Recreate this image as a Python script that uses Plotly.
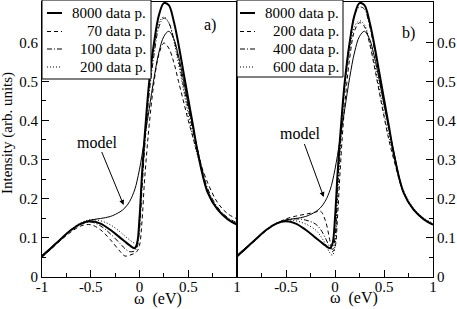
import plotly.graph_objects as go

# shared energy grid (eV)
omega = [-1, -0.9, -0.8, -0.7, -0.6, -0.5, -0.4, -0.3, -0.2, -0.15, -0.1, -0.05, -0.025,
         0, 0.025, 0.05, 0.075, 0.1, 0.15, 0.2, 0.25, 0.3, 0.35, 0.4, 0.45, 0.5, 0.55,
         0.6, 0.7, 0.8, 0.9, 1.0]

model = [0.055, 0.077, 0.099, 0.12, 0.136, 0.145, 0.149, 0.154, 0.166, 0.176, 0.193, 0.222, 0.245,
         0.275, 0.31, 0.35, 0.39, 0.43, 0.51, 0.575, 0.615, 0.628, 0.61, 0.565, 0.505, 0.44, 0.38,
         0.32, 0.215, 0.172, 0.148, 0.133]

p8000 = [0.052, 0.075, 0.098, 0.12, 0.136, 0.142, 0.136, 0.12, 0.1, 0.09, 0.08, 0.073, 0.085,
         0.15, 0.26, 0.35, 0.43, 0.5, 0.6, 0.67, 0.70, 0.695, 0.655, 0.595, 0.525, 0.455, 0.385,
         0.315, 0.215, 0.172, 0.148, 0.133]

# panel a)
a_p70 = [0.05, 0.072, 0.095, 0.115, 0.13, 0.133, 0.12, 0.095, 0.065, 0.053, 0.055, 0.06, 0.065,
         0.08, 0.14, 0.24, 0.32, 0.39, 0.5, 0.57, 0.598, 0.585, 0.55, 0.5, 0.45, 0.4, 0.355,
         0.31, 0.24, 0.19, 0.162, 0.148]
a_p100 = [0.051, 0.074, 0.097, 0.118, 0.134, 0.14, 0.13, 0.11, 0.085, 0.072, 0.064, 0.066, 0.075,
          0.12, 0.22, 0.32, 0.40, 0.47, 0.57, 0.64, 0.662, 0.65, 0.61, 0.555, 0.49, 0.43, 0.37,
          0.32, 0.225, 0.178, 0.152, 0.138]
a_p200 = [0.053, 0.076, 0.099, 0.121, 0.138, 0.146, 0.143, 0.133, 0.115, 0.104, 0.094, 0.086, 0.09,
          0.14, 0.25, 0.34, 0.42, 0.49, 0.59, 0.65, 0.665, 0.65, 0.605, 0.545, 0.48, 0.415, 0.355,
          0.305, 0.22, 0.175, 0.15, 0.135]

# panel b)
b_p200 = [0.05, 0.073, 0.096, 0.118, 0.135, 0.148, 0.155, 0.16, 0.165, 0.168, 0.145, 0.09, 0.064,
          0.075, 0.15, 0.26, 0.36, 0.44, 0.56, 0.63, 0.65, 0.64, 0.6, 0.54, 0.475, 0.41, 0.35,
          0.3, 0.215, 0.172, 0.148, 0.134]
b_p400 = [0.051, 0.074, 0.097, 0.119, 0.136, 0.145, 0.148, 0.145, 0.135, 0.122, 0.1, 0.075, 0.07,
          0.1, 0.22, 0.33, 0.42, 0.5, 0.6, 0.67, 0.69, 0.685, 0.645, 0.585, 0.515, 0.445, 0.38,
          0.315, 0.215, 0.172, 0.148, 0.133]
b_p600 = [0.052, 0.075, 0.098, 0.12, 0.137, 0.145, 0.143, 0.135, 0.12, 0.105, 0.085, 0.06, 0.055,
          0.08, 0.2, 0.31, 0.4, 0.48, 0.58, 0.64, 0.655, 0.645, 0.605, 0.55, 0.485, 0.42, 0.36,
          0.31, 0.22, 0.176, 0.151, 0.137]

a_labels = ["8000 data p.", "70 data p.", "100 data p.", "200 data p."]
b_labels = ["8000 data p.", "200 data p.", "400 data p.", "600 data p."]
dashes = ["solid", "4px,3px", "5px,2px,1px,2px", "1px,2px"]
widths = [2, 1, 1, 1]

x_ticks = [-1, -0.5, 0, 0.5, 1]
a_xticktext = ["-1", "-0.5", "0", "0.5", "1"]
b_xticktext = ["", "-0.5", "0", "0.5", "1"]
y_ticks = [0, 0.1, 0.2, 0.3, 0.4, 0.5, 0.6]
y_ticktext = ["0", "0.1", "0.2", "0.3", "0.4", "0.5", "0.6"]

FONT = "Liberation Serif, Times New Roman, serif"
W, H = 457, 309

fig = go.Figure()

a_series = [p8000, a_p70, a_p100, a_p200]
b_series = [p8000, b_p200, b_p400, b_p600]

for ys, lab, d, w in zip(a_series, a_labels, dashes, widths):
    fig.add_trace(go.Scatter(x=omega, y=ys, name=lab, mode="lines", line_shape="spline",
                             line=dict(color="black", dash=d, width=w), showlegend=False,
                             xaxis="x", yaxis="y"))
fig.add_trace(go.Scatter(x=omega, y=model, name="model", mode="lines", line_shape="spline",
                         line=dict(color="black", width=1), showlegend=False,
                         xaxis="x", yaxis="y"))

for ys, lab, d, w in zip(b_series, b_labels, dashes, widths):
    fig.add_trace(go.Scatter(x=omega, y=ys, name=lab, mode="lines", line_shape="spline",
                             line=dict(color="black", dash=d, width=w), showlegend=False,
                             xaxis="x2", yaxis="y2"))
fig.add_trace(go.Scatter(x=omega, y=model, name="model", mode="lines", line_shape="spline",
                         line=dict(color="black", width=1), showlegend=False,
                         xaxis="x2", yaxis="y2"))

xl, xm, xr = 42 / W, 237 / W, 433 / W
yb, yt = (H - 276.7) / H, (H - 2) / H

common_x = dict(range=[-1, 1], tickvals=x_ticks, ticks="inside", ticklen=7, tickcolor="black",
                showline=True, linecolor="black", linewidth=1, mirror=True,
                showgrid=False, zeroline=False, automargin=False, ticklabelstandoff=-4,
                minor=dict(dtick=0.25, ticks="inside", ticklen=4, tickcolor="black", showgrid=False),
                tickfont=dict(family=FONT, size=15, color="black"))
common_y = dict(range=[0, 0.703], tickvals=y_ticks, ticktext=y_ticktext, ticks="inside", ticklen=7,
                tickcolor="black", showline=True, linecolor="black", linewidth=1, mirror=True,
                showgrid=False, zeroline=False, automargin=False,
                minor=dict(tickvals=[0.05, 0.15, 0.25, 0.35, 0.45, 0.55, 0.65], ticks="inside",
                           ticklen=4, tickcolor="black", showgrid=False),
                tickfont=dict(family=FONT, size=15, color="black"))


def px_x(p):
    return p / W


def px_y(p):
    return (H - p) / H


# legend boxes drawn as decoration (box, key lines, right-aligned labels)
shapes = []
annotations = []
legend_specs = [
    (42, 151, 79, 47, 62, 148, a_labels),
    (237, 343, 77, 240, 255, 341, b_labels),
]
row_y = [13, 31.5, 49, 67]
for bl, br, bb, k0, k1, tr, labels in legend_specs:
    shapes.append(dict(type="rect", xref="paper", yref="paper", x0=px_x(bl), x1=px_x(br),
                       y0=px_y(bb), y1=px_y(0), line=dict(color="black", width=1),
                       fillcolor="white", layer="above"))
    for ry, lab, d, w in zip(row_y, labels, dashes, widths):
        shapes.append(dict(type="line", xref="paper", yref="paper", x0=px_x(k0), x1=px_x(k1),
                           y0=px_y(ry), y1=px_y(ry), line=dict(color="black", width=w, dash=d),
                           layer="above"))
        annotations.append(dict(text=lab, xref="paper", yref="paper", x=px_x(tr), y=px_y(ry),
                                xanchor="right", yanchor="middle", showarrow=False,
                                font=dict(family=FONT, size=15, color="black")))


def label(text, x, y, size=16, angle=0):
    return dict(text=text, textangle=angle, xref="paper", yref="paper", x=px_x(x), y=px_y(y),
                xanchor="center", yanchor="middle", showarrow=False,
                font=dict(family=FONT, size=size, color="black"))


annotations += [
    label("Intensity (arb. units)", 7, 133, 15, -90),
    label("\u03c9  (eV)", 158, 299),
    label("\u03c9  (eV)", 354, 298),
    label("a)", 210, 25),
    label("b)", 408, 33),
    dict(text="model", xref="x", yref="y", x=-0.163, y=0.1835, ax=-26, ay=-63,
         showarrow=True, arrowhead=2, arrowsize=1, arrowwidth=1, arrowcolor="black",
         font=dict(family=FONT, size=16, color="black")),
    dict(text="model", xref="x2", yref="y2", x=-0.115, y=0.204, ax=-23, ay=-63,
         showarrow=True, arrowhead=2, arrowsize=1, arrowwidth=1, arrowcolor="black",
         font=dict(family=FONT, size=16, color="black")),
]

fig.update_layout(
    template="none",
    width=W, height=H, margin=dict(l=0, r=0, t=0, b=0, autoexpand=False),
    paper_bgcolor="white", plot_bgcolor="white",
    font=dict(family=FONT, color="black"),
    showlegend=False,
    xaxis=dict(domain=[xl, xm], anchor="y", ticktext=a_xticktext, **common_x),
    yaxis=dict(domain=[yb, yt], anchor="x", side="left", **common_y),
    xaxis2=dict(domain=[xm, xr], anchor="y2", ticktext=b_xticktext, **common_x),
    yaxis2=dict(domain=[yb, yt], anchor="x2", side="right", **common_y),
    shapes=shapes,
    annotations=annotations,
)

fig.write_html("out.html", config={"displayModeBar": False},
               post_script="document.body.style.margin='0';")
